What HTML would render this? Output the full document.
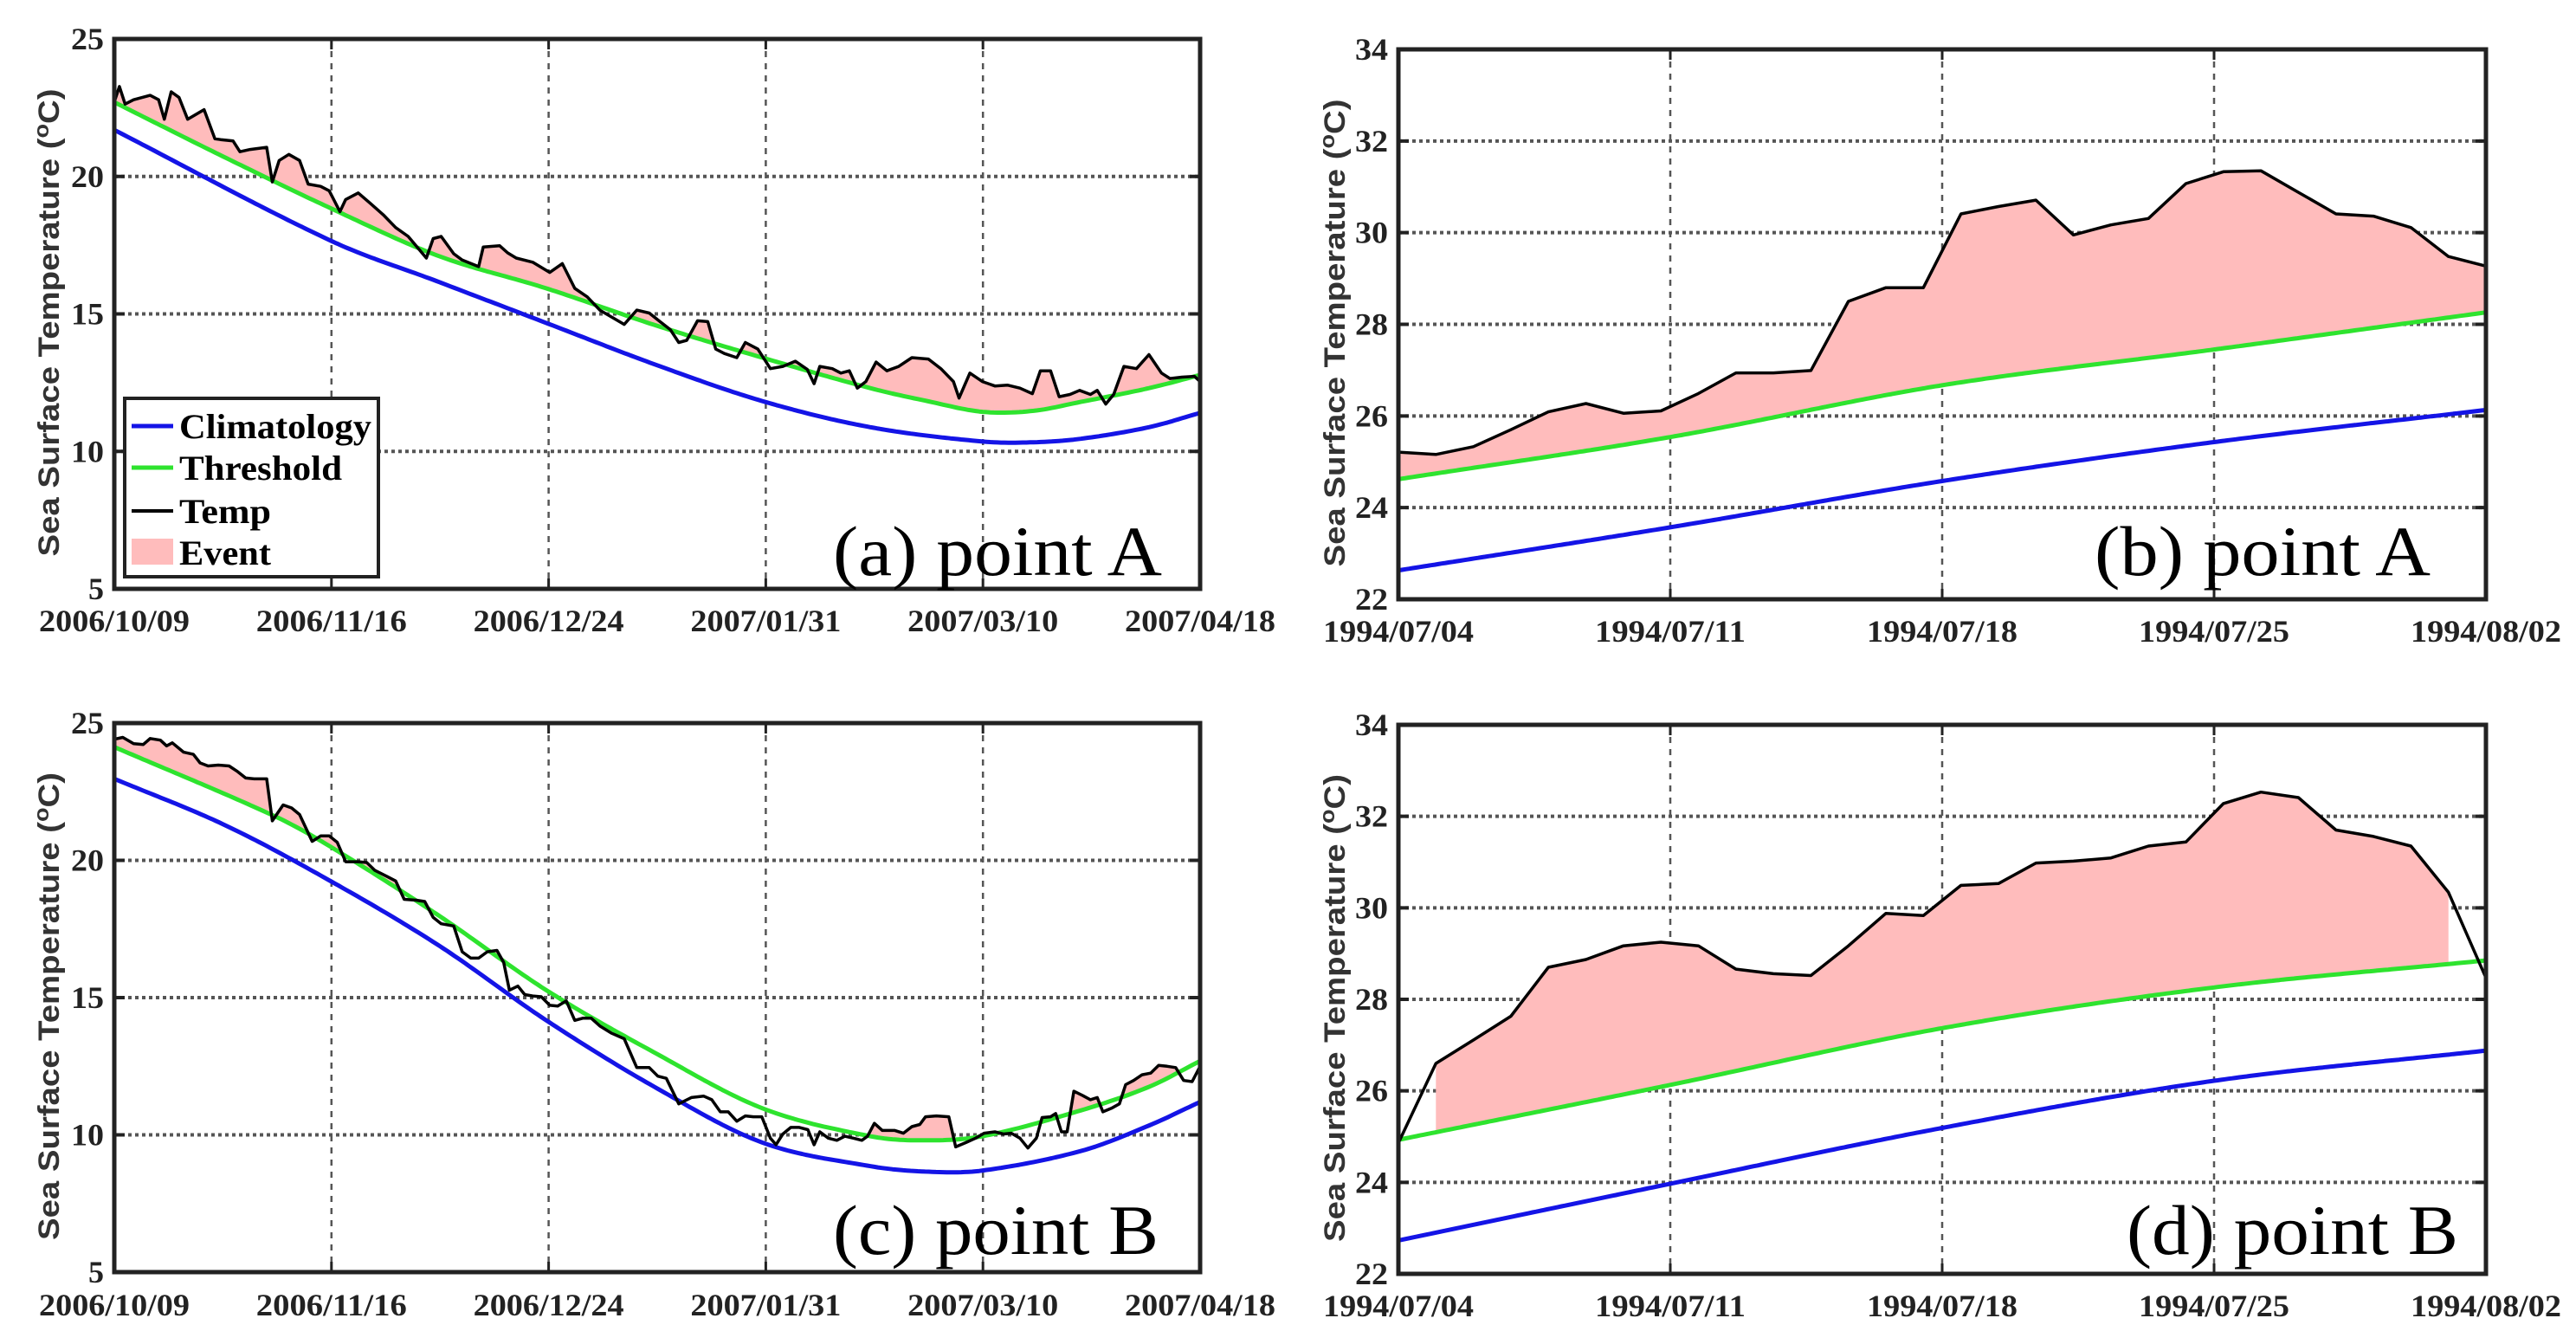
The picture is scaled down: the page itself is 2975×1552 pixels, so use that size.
<!DOCTYPE html>
<html><head><meta charset="utf-8"><style>
html,body{margin:0;padding:0;background:#fff;}
svg{display:block;}
</style></head><body>
<svg id="fig" width="2975" height="1552" viewBox="0 0 2975 1552" xmlns="http://www.w3.org/2000/svg">
<rect width="2975" height="1552" fill="#fff"/>
<g id="panelA"></g>
<g id="panelB"></g>
<g id="panelC"></g>
<g id="panelD"></g>
<g id="legend">
  <rect x="144" y="460" width="293" height="206" fill="#fff" stroke="#222" stroke-width="4"/>
  <line x1="152" y1="492" x2="200" y2="492" stroke="#1414e6" stroke-width="5"/>
  <text x="207" y="506" font-family="'Liberation Serif', serif" font-weight="bold" font-size="40" textLength="222" lengthAdjust="spacingAndGlyphs">Climatology</text>
  <line x1="152" y1="540" x2="200" y2="540" stroke="#2ee32e" stroke-width="5"/>
  <text x="207" y="554" font-family="'Liberation Serif', serif" font-weight="bold" font-size="40" textLength="188" lengthAdjust="spacingAndGlyphs">Threshold</text>
  <line x1="152" y1="590" x2="200" y2="590" stroke="#000" stroke-width="4"/>
  <text x="207" y="604" font-family="'Liberation Serif', serif" font-weight="bold" font-size="40" textLength="106" lengthAdjust="spacingAndGlyphs">Temp</text>
  <rect x="152" y="622" width="48" height="30" fill="#ffbcbc"/>
  <text x="207" y="652" font-family="'Liberation Serif', serif" font-weight="bold" font-size="40" textLength="106" lengthAdjust="spacingAndGlyphs">Event</text>
</g>
</svg>
<script>
// ---------- Panel A data (days since 2006/10/09) ----------
const aTempDays = [0,0.9,1.9,3.4,6.3,7.8,8.8,10,11.4,12.9,15.8,17.7,18.7,20.9,22.1,23.9,26.8,27.8,29,30.7,32.6,34.1,36.3,37.8,39.7,40.7,42.9,45.1,47.3,49.5,51.7,54.9,56.1,57.5,59.7,61.2,64.1,64.9,67.8,69.2,70.7,73.6,76.6,78.8,81,83.2,85.4,89.7,91.9,94.1,96.3,97.8,99.3,100.7,102.6,104.4,105.8,107.3,109.5,111,113.2,115.4,117.6,119.8,121.9,123.1,124.1,126.3,127.8,129.3,130.7,132.2,134,135.9,138,140.3,143.2,145.4,147.6,148.6,150.5,152.7,154.9,157.1,159.3,161.5,162.9,164.7,166.2,168.1,169.8,171.7,172.9,174.4,175.8,177.6,179.8,182,184.2,185.7,187.8,190,191];
const aTemp = [22.71,23.27,22.63,22.79,22.95,22.79,22.08,23.08,22.87,22.08,22.43,21.37,21.34,21.29,20.9,20.98,21.06,19.8,20.58,20.8,20.58,19.72,19.64,19.48,18.72,19.16,19.4,19.01,18.61,18.14,17.82,17.03,17.74,17.82,17.19,16.96,16.72,17.43,17.48,17.22,17.03,16.88,16.51,16.83,15.93,15.62,15.14,14.62,15.14,15.03,14.67,14.43,13.96,14.04,14.75,14.72,13.72,13.56,13.41,13.96,13.72,13.01,13.09,13.28,12.98,12.46,13.09,13.01,12.85,12.93,12.3,12.54,13.25,12.93,13.09,13.41,13.36,13.01,12.54,11.94,12.85,12.54,12.38,12.41,12.3,12.1,12.93,12.93,11.99,12.07,12.22,12.07,12.22,11.72,12.07,13.09,13.01,13.52,12.85,12.65,12.7,12.73,12.54];
const aThrDays = [0,19,38,57,76,95,114,133,143,152.7,161.5,170,182,191];
const aThr = [22.7,20.74,18.85,17.11,15.93,14.6,13.41,12.3,11.83,11.44,11.47,11.8,12.3,12.78];
const aClimDays = [0,38,57,76,95,114,133,152.7,161.5,170,182,191];
const aClim = [21.69,17.67,16.17,14.67,13.17,11.83,10.88,10.36,10.33,10.46,10.88,11.4];
const abDateTicks = ["2006/10/09","2006/11/16","2006/12/24","2007/01/31","2007/03/10","2007/04/18"];
const acYTicks = [5,10,15,20,25];

// ---------- Panel C data ----------
const cTempDays = [0,1.5,3.4,5.1,6.3,8.1,9.2,10.2,12.2,13.9,15.1,16.5,18.3,20.2,21.7,23.1,24.6,26.8,27.8,29.7,31.2,32.6,34.8,36.3,37.8,39.2,40.7,42.9,44.4,45.8,48,49.5,51,53.1,54.6,56.1,57.5,59.7,61.2,62.7,64.1,65.6,67.3,68.5,69.5,71,72.2,73.6,75.1,76.6,78,79.5,81,82.4,83.9,85.4,87.5,89.7,91.9,94.1,95.6,97.1,99.3,101.5,103.7,105.1,106.6,108,109.5,111,112.4,113.9,115.4,116.4,117.6,119,120.5,122,123.1,124.1,125.6,127.1,128.5,130,131.5,132.5,133.7,135.1,137.3,138.8,140.3,141.7,142.7,144.6,146.8,148,149.8,151.5,153,154.9,156.4,157.8,159.3,160.7,162.2,163.2,164.7,165.6,166.6,167.6,168.8,170.3,171.7,172.9,173.9,175.4,176.8,177.9,179.3,180.8,182.3,183.7,185.2,186.7,188.1,189.6,191];
const cTemp = [24.41,24.48,24.25,24.22,24.44,24.38,24.17,24.28,23.94,23.86,23.55,23.44,23.47,23.44,23.23,23.0,22.97,22.97,21.44,22.02,21.91,21.67,20.69,20.89,20.89,20.66,19.95,19.95,19.92,19.64,19.41,19.25,18.58,18.55,18.5,17.92,17.69,17.61,16.67,16.44,16.44,16.67,16.72,16.28,15.27,15.42,15.11,15.06,15.03,14.72,14.69,14.88,14.17,14.25,14.25,13.97,13.7,13.5,12.45,12.45,12.14,12.06,11.13,11.36,11.41,11.28,10.84,10.84,10.5,10.69,10.66,10.66,9.88,9.64,10.03,10.27,10.27,10.19,9.64,10.11,9.88,9.8,9.95,9.88,9.8,9.95,10.42,10.16,10.16,10.06,10.3,10.38,10.66,10.69,10.66,9.56,9.72,9.88,10.06,10.11,10.03,10.06,9.88,9.52,9.88,10.63,10.66,10.78,10.11,10.11,11.59,11.44,11.28,11.36,10.84,10.97,11.13,11.83,11.98,12.19,12.25,12.53,12.5,12.45,11.98,11.94,12.5];
const cThrDays = [0,28.3,38,57,76,95,114,133,142.4,152.7,170,182,191];
const cThr = [24.13,21.6,20.5,18.0,15.27,13.0,10.97,9.95,9.8,9.95,10.89,11.75,12.69];
const cClimDays = [0,19.5,38,57,76,95,114,133,143,152.7,170,182,191];
const cClim = [22.97,21.28,19.25,16.91,14.17,11.75,9.72,8.86,8.66,8.7,9.41,10.34,11.2];

// ---------- Panel B data (days since 1994/07/04) ----------
const bdDateTicks = ["1994/07/04","1994/07/11","1994/07/18","1994/07/25","1994/08/02"];
const bdYTicks = [22,24,26,28,30,32,34];
const bTemp = [25.21,25.16,25.33,25.7,26.09,26.27,26.06,26.11,26.49,26.94,26.94,26.99,28.5,28.8,28.8,30.41,30.57,30.71,29.95,30.17,30.31,31.07,31.33,31.35,30.88,30.41,30.36,30.11,29.48,29.27];
const bThrDays = [0,7.25,14.5,21.75,29];
const bThr = [24.62,25.54,26.67,27.45,28.26];
const bClim = [22.63,23.57,24.58,25.43,26.13];

// ---------- Panel D data ----------
const dTemp = [24.86,26.6,27.11,27.63,28.7,28.87,29.17,29.25,29.17,28.66,28.56,28.52,29.17,29.88,29.83,30.49,30.53,30.98,31.02,31.09,31.35,31.44,32.28,32.53,32.41,31.7,31.56,31.35,30.34,28.47];
const dThr = [24.93,26.13,27.37,28.26,28.85];
const dClim = [22.73,23.97,25.19,26.22,26.88];
const dEventStart = 1, dEventEnd = 28;

const NS = "http://www.w3.org/2000/svg";
const SERIF = "'Liberation Serif', serif";
const SANS = "'Liberation Sans', sans-serif";
function mk(parent, tag, attrs){ const e=document.createElementNS(NS,tag); for(const k in attrs) e.setAttribute(k,attrs[k]); parent.appendChild(e); return e; }
function interp(xs, ys, x){
  const n=xs.length;
  if(x<=xs[0]) return ys[0];
  if(x>=xs[n-1]) return ys[n-1];
  let i=0; while(i<n-2 && x>xs[i+1]) i++;
  const x0=xs[i],x1=xs[i+1],y0=ys[i],y1=ys[i+1],h=x1-x0;
  const m0 = i>0 ? (ys[i+1]-ys[i-1])/(xs[i+1]-xs[i-1]) : (y1-y0)/h;
  const m1 = i<n-2 ? (ys[i+2]-ys[i])/(xs[i+2]-xs[i]) : (y1-y0)/h;
  const t=(x-x0)/h, t2=t*t, t3=t2*t;
  return (2*t3-3*t2+1)*y0+(t3-2*t2+t)*h*m0+(-2*t3+3*t2)*y1+(t3-t2)*h*m1;
}
function linInterp(xs, ys, x){
  if(x<=xs[0]) return ys[0];
  for(let i=0;i<xs.length-1;i++){ if(x<=xs[i+1]){ const t=(x-xs[i])/(xs[i+1]-xs[i]); return ys[i]+t*(ys[i+1]-ys[i]); } }
  return ys[ys.length-1];
}

function drawPanel(cfg){
  const g=document.getElementById(cfg.id);
  const X=d=>cfg.x0+(d-cfg.xmin)/(cfg.xmax-cfg.xmin)*(cfg.x1-cfg.x0);
  const Y=v=>cfg.y1-(v-cfg.ymin)/(cfg.ymax-cfg.ymin)*(cfg.y1-cfg.y0);
  const clip=mk(g,'clipPath',{id:cfg.id+'clip'}); mk(clip,'rect',{x:cfg.x0,y:cfg.y0,width:cfg.x1-cfg.x0,height:cfg.y1-cfg.y0});
  const nT=cfg.xLabels.length;
  cfg.xLabels.forEach((lab,i)=>{
    const d=cfg.xmin+i*(cfg.xmax-cfg.xmin)/(nT-1), x=X(d);
    if(i>0 && i<nT-1){ const gl=mk(g,'line',{x1:x,y1:cfg.y0,x2:x,y2:cfg.y1,stroke:'#555',"stroke-width":2.5,"stroke-dasharray":'7,7'});
        }
    const tk=mk(g,'path',{d:`M${x},${cfg.y1}v-12M${x},${cfg.y0}v12`,stroke:'#222',"stroke-width":3});
     
    const t=mk(g,'text',{x:x,y:cfg.xLabY,"text-anchor":'middle',"font-family":SERIF,"font-weight":'bold',"font-size":36,textLength:174,lengthAdjust:'spacingAndGlyphs',fill:'#222'});
    t.textContent=lab;
     
  });
  cfg.yTicks.forEach((v,i)=>{
    const y=Y(v);
    if(i>0 && i<cfg.yTicks.length-1){ const gl=mk(g,'line',{x1:cfg.x0,y1:y,x2:cfg.x1,y2:y,stroke:'#555',"stroke-width":4,"stroke-dasharray":'4,4'});
        }
    const tk=mk(g,'path',{d:`M${cfg.x0},${y}h12M${cfg.x1},${y}h-12`,stroke:'#222',"stroke-width":4});
     
    const s=String(v);
    const attrs={x:cfg.x0-12,y:y+12,"text-anchor":'end',"font-family":SERIF,"font-weight":'bold',"font-size":36,fill:'#222'};
    if(s.length>1){ attrs.textLength=38; attrs.lengthAdjust='spacingAndGlyphs'; }
    const t=mk(g,'text',attrs);
    t.textContent=s;
     
  });
  const data=mk(g,'g',{"clip-path":`url(#${cfg.id}clip)`});
   
  const thrAt=d=>interp(cfg.thrDays,cfg.thr,d);
  let top=[],bot=[];
  const N=600;
  for(let k=0;k<=N;k++){
    const d=cfg.fillFrom+(cfg.fillTo-cfg.fillFrom)*k/N;
    const tv=linInterp(cfg.tempDays,cfg.temp,d), th=thrAt(d);
    top.push([X(d),Y(Math.max(tv,th))]); bot.push([X(d),Y(th)]);
  }
  const fp=top.concat(bot.reverse()).map((p,i)=>(i?'L':'M')+p[0].toFixed(1)+','+p[1].toFixed(1)).join('')+'Z';
  const fill=mk(data,'path',{d:fp,fill:'#ffbcbc',stroke:'none'});
   
  function curve(xs,ys,col,name){
    let p='';
    for(let k=0;k<=300;k++){ const d=cfg.xmin+(cfg.xmax-cfg.xmin)*k/300; p+=(k?'L':'M')+X(d).toFixed(1)+','+Y(interp(xs,ys,d)).toFixed(1); }
    const e=mk(data,'path',{d:p,fill:'none',stroke:col,"stroke-width":5,"stroke-linejoin":'round'});
     
  }
  curve(cfg.climDays,cfg.clim,'#1414e6','climatology-line');
  curve(cfg.thrDays,cfg.thr,'#2ee32e','threshold-line');
  const tp=cfg.temp.map((v,i)=>(i?'L':'M')+X(cfg.tempDays[i]).toFixed(1)+','+Y(v).toFixed(1)).join('');
  const tl=mk(data,'path',{d:tp,fill:'none',stroke:'#000',"stroke-width":3.5,"stroke-linejoin":'round'});
   
  const box=mk(g,'rect',{x:cfg.x0,y:cfg.y0,width:cfg.x1-cfg.x0,height:cfg.y1-cfg.y0,fill:'none',stroke:'#222',"stroke-width":5});
   
  const cy=(cfg.y0+cfg.y1)/2+10;
  const yl=mk(g,'text',{x:0,y:0,transform:`translate(${cfg.ylabX},${cy}) rotate(-90)`,"text-anchor":'middle',"font-family":SANS,"font-weight":'bold',"font-size":34,textLength:540,lengthAdjust:'spacingAndGlyphs',fill:'#333'});
  yl.innerHTML='Sea Surface Temperature (<tspan dy="-12" font-size="24">o</tspan><tspan dy="12">C)</tspan>';
   
  const pt=mk(g,'text',{x:cfg.titleX,y:cfg.titleY,"font-family":SERIF,"font-size":82,textLength:cfg.titleW,lengthAdjust:'spacingAndGlyphs',fill:'#000'});
  pt.textContent=cfg.title;
   
}

const bDays = bTemp.map((_,i)=>i);
const dDays = dTemp.map((_,i)=>i);

drawPanel({id:'panelA',x0:132,x1:1386,y0:45,y1:680,xmin:0,xmax:191,ymin:5,ymax:25,xLabels:abDateTicks,yTicks:acYTicks,xLabY:729,
  tempDays:aTempDays,temp:aTemp,thrDays:aThrDays,thr:aThr,climDays:aClimDays,clim:aClim,fillFrom:0,fillTo:191,
  ylabX:68,title:'(a) point A',titleX:962,titleY:664,titleW:380});
drawPanel({id:'panelC',x0:132,x1:1386,y0:835,y1:1469,xmin:0,xmax:191,ymin:5,ymax:25,xLabels:abDateTicks,yTicks:acYTicks,xLabY:1519,
  tempDays:cTempDays,temp:cTemp,thrDays:cThrDays,thr:cThr,climDays:cClimDays,clim:cClim,fillFrom:0,fillTo:191,
  ylabX:68,title:'(c) point B',titleX:962,titleY:1448,titleW:376});
drawPanel({id:'panelB',x0:1615,x1:2871,y0:57,y1:692,xmin:0,xmax:29,ymin:22,ymax:34,xLabels:bdDateTicks,yTicks:bdYTicks,xLabY:741,
  tempDays:bDays,temp:bTemp,thrDays:bThrDays,thr:bThr,climDays:bThrDays,clim:bClim,fillFrom:0,fillTo:29,
  ylabX:1553,title:'(b) point A',titleX:2419,titleY:664,titleW:388});
drawPanel({id:'panelD',x0:1615,x1:2871,y0:837,y1:1471,xmin:0,xmax:29,ymin:22,ymax:34,xLabels:bdDateTicks,yTicks:bdYTicks,xLabY:1520,
  tempDays:dDays,temp:dTemp,thrDays:bThrDays,thr:dThr,climDays:bThrDays,clim:dClim,fillFrom:dEventStart,fillTo:dEventEnd,
  ylabX:1553,title:'(d) point B',titleX:2456,titleY:1448,titleW:383});
document.getElementById('fig').appendChild(document.getElementById('legend'));
</script>
</body></html>
